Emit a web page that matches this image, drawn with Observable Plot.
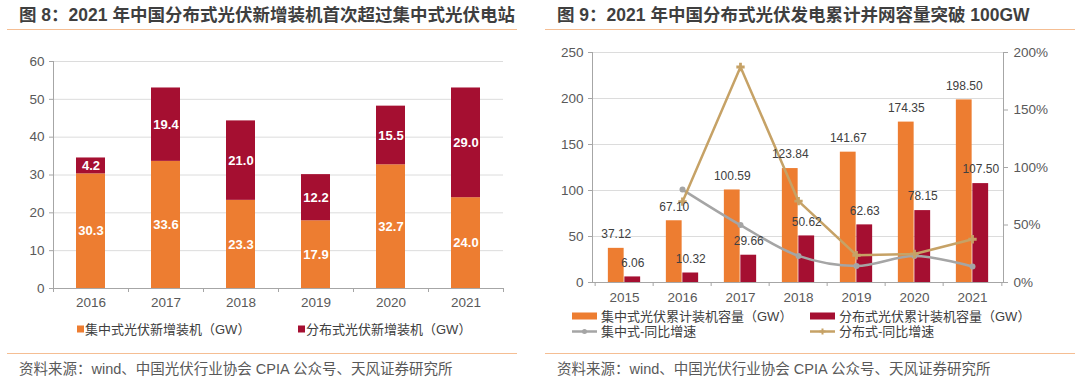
<!DOCTYPE html>
<html>
<head>
<meta charset="utf-8">
<script src="https://cdn.jsdelivr.net/npm/d3@7"></script>
<script src="https://cdn.jsdelivr.net/npm/@observablehq/plot@0.6"></script>
<style>
  body { margin: 0; background: #fff; }
  #root { position: relative; width: 1080px; height: 384px; overflow: hidden;
          font-family: "Liberation Sans", "Noto Sans CJK SC", sans-serif; }
  .abs { position: absolute; white-space: nowrap; line-height: 1; transform: translateY(-50%); }
  .title { font-size: 17.5px; font-weight: bold; color: #3F3F3F; }
  .sep { position: absolute; height: 0; border-top: 1.5px solid #F5BE93; }
  .src { font-size: 14.5px; color: #595959; }
  .leg { font-size: 13px; color: #404040; display: flex; align-items: center; }
  .chart { position: absolute; }
  .chart svg { overflow: visible; }
</style>
</head>
<body>
<div id="root"></div>
<script>
// ---------- data: figure 8 ----------
const years8 = ["2016", "2017", "2018", "2019", "2020", "2021"];
const centralAdd = [30.3, 33.6, 23.3, 17.9, 32.7, 24.0];
const distributedAdd = [4.2, 19.4, 21.0, 12.2, 15.5, 29.0];
const series8 = ["集中式光伏新增装机（GW）", "分布式光伏新增装机（GW）"];
const yTicks8 = [0, 10, 20, 30, 40, 50, 60];

// ---------- data: figure 9 ----------
const years9 = ["2015", "2016", "2017", "2018", "2019", "2020", "2021"];
const centralCum = [37.12, 67.10, 100.59, 123.84, 141.67, 174.35, 198.50];
const distributedCum = [6.06, 10.32, 29.66, 50.62, 62.63, 78.15, 107.50];
const centralGrowth = [null, 80.8, 49.9, 23.1, 14.4, 23.1, 13.9];      // %
const distributedGrowth = [null, 70.3, 187.4, 70.7, 23.7, 24.8, 37.6]; // %
const series9 = ["集中式光伏累计装机容量（GW）", "分布式光伏累计装机容量（GW）", "集中式-同比增速", "分布式-同比增速"];
const yTicks9 = [0, 50, 100, 150, 200, 250];
const pctTicks9 = [0, 50, 100, 150, 200];

const title8 = "图 8：2021 年中国分布式光伏新增装机首次超过集中式光伏电站";
const title9 = "图 9：2021 年中国分布式光伏发电累计并网容量突破 100GW";
const source = "资料来源：wind、中国光伏行业协会 CPIA 公众号、天风证券研究所";

// ---------- styles ----------
const ORANGE = "#ED7D31", RED = "#A50F31", GRAY = "#A5A5A5", GOLD = "#C6A266";
const GRID = "#DCDCDC", AXIS = "#A6A6A6", TICKTXT = "#595959";
const FONT = '"Liberation Sans", "Noto Sans CJK SC", sans-serif';

const root = document.getElementById("root");
function add(html, cls, left, top, extra = "") {
  const d = document.createElement("div");
  d.className = cls;
  d.style.cssText = `left:${left}px;top:${top}px;${extra}`;
  d.innerHTML = html;
  root.appendChild(d);
  return d;
}
function sep(left, right, top) {
  const d = document.createElement("div");
  d.className = "sep";
  d.style.cssText = `left:${left}px;top:${top}px;width:${right - left}px;`;
  root.appendChild(d);
}

// ---------- figure 8 ----------
add(title8, "abs title", 19, 16);
sep(7, 517, 29);

const rows8 = years8.flatMap((y, i) => [
  {year: y, s: series8[0], v: centralAdd[i]},
  {year: y, s: series8[1], v: distributedAdd[i]}
]);
const W8 = 540, ML8 = 53, MR8 = 37;
const step8 = (W8 - ML8 - MR8) / years8.length;

const chart8 = Plot.plot({
  width: W8, height: 278, marginTop: 21, marginBottom: 30, marginLeft: ML8, marginRight: MR8,
  style: {fontFamily: FONT, fontSize: "13.5px", color: TICKTXT, background: "transparent"},
  x: {domain: years8, paddingInner: 0.613, paddingOuter: 0.3065, label: null},
  y: {domain: [0, 60], label: null},
  color: {domain: series8, range: [ORANGE, RED]},
  marks: [
    Plot.ruleY(yTicks8.slice(1), {stroke: GRID}),
    Plot.barY(rows8, {x: "year", y: "v", fill: "s", z: "s"}),
    Plot.text(rows8, Plot.stackY({x: "year", y: "v", z: "s", text: d => d.v.toFixed(1),
      fill: "white", fontWeight: "bold", fontSize: 13})),
    Plot.ruleY([0], {stroke: AXIS}),
    Plot.frame({anchor: "left", stroke: AXIS}),
    Plot.axisY(yTicks8, {tickSize: 4, tickPadding: 5, stroke: AXIS, fill: TICKTXT, label: null}),
    Plot.axisX({tickSize: 0, tickPadding: 9, fill: TICKTXT, label: null}),
    Plot.ruleX(years8, {x: d => d, y1: 0, y2: 0, insetBottom: -4, dx: -step8 / 2, stroke: AXIS}),
    Plot.ruleX(years8.slice(-1), {x: d => d, y1: 0, y2: 0, insetBottom: -4, dx: step8 / 2, stroke: AXIS})
  ]
});
const c8 = document.createElement("div");
c8.className = "chart"; c8.style.cssText = "left:0px;top:40px;";
c8.appendChild(chart8); root.appendChild(c8);

// legend 8
add(`<span style="display:inline-block;width:7px;height:7px;background:${ORANGE};margin-right:1px"></span>${series8[0]}`, "abs leg", 77, 329);
add(`<span style="display:inline-block;width:7px;height:7px;background:${RED};margin-right:1px"></span>${series8[1]}`, "abs leg", 298, 329);

sep(7, 517, 353);
add(source, "abs src", 19, 369);

// ---------- figure 9 ----------
add(title9, "abs title", 557, 16);
sep(545, 1075, 29);

const W9 = 540, ML9 = 52, MR9 = 77;
const step9 = (W9 - ML9 - MR9) / years9.length;
const barW9 = 16.5;
const k = yTicks9[yTicks9.length - 1] / pctTicks9[pctTicks9.length - 1]; // % -> left-axis units

const rowsC = years9.map((y, i) => ({year: y, v: centralCum[i]}));
const rowsD = years9.map((y, i) => ({year: y, v: distributedCum[i]}));
const growC = years9.map((y, i) => ({year: y, g: centralGrowth[i]})).filter(d => d.g != null);
const growD = years9.map((y, i) => ({year: y, g: distributedGrowth[i]})).filter(d => d.g != null);

const chart9 = Plot.plot({
  width: W9, height: 278, marginTop: 22, marginBottom: 26, marginLeft: ML9, marginRight: MR9,
  style: {fontFamily: FONT, fontSize: "13.5px", color: TICKTXT, background: "transparent"},
  x: {domain: years9, padding: 0, label: null},
  y: {domain: [0, 250], label: null},
  marks: [
    Plot.ruleY(yTicks9.slice(1), {stroke: GRID}),
    Plot.barY(rowsC, {x: "year", y: "v", fill: ORANGE, insetLeft: step9 / 2 - barW9, insetRight: step9 / 2}),
    Plot.barY(rowsD, {x: "year", y: "v", fill: RED, insetLeft: step9 / 2, insetRight: step9 / 2 - barW9}),
    Plot.line(growC, {x: "year", y: d => d.g * k, stroke: GRAY, strokeWidth: 2.5, curve: "catmull-rom"}),
    Plot.dot(growC, {x: "year", y: d => d.g * k, r: 3, fill: GRAY}),
    Plot.line(growD, {x: "year", y: d => d.g * k, stroke: GOLD, strokeWidth: 2.5}),
    Plot.dot(growD, {x: "year", y: d => d.g * k, r: 3.5, symbol: "cross", fill: GOLD}),
    Plot.text(rowsC, {x: "year", y: "v", text: d => d.v.toFixed(2), dx: -barW9 / 2, dy: -14, fill: "#404040", fontSize: 12}),
    Plot.text(rowsD, {x: "year", y: "v", text: d => d.v.toFixed(2), dx: barW9 / 2, dy: -14, fill: "#404040", fontSize: 12}),
    Plot.ruleY([0], {stroke: AXIS}),
    Plot.frame({anchor: "left", stroke: AXIS}),
    Plot.frame({anchor: "right", stroke: AXIS}),
    Plot.axisY(yTicks9, {tickSize: 4, tickPadding: 5, stroke: AXIS, fill: TICKTXT, label: null}),
    Plot.axisY(pctTicks9.map(p => p * k), {anchor: "right", tickSize: 4, tickPadding: 6, stroke: AXIS, fill: TICKTXT,
      label: null, tickFormat: d => Math.round(d / k) + "%"}),
    Plot.axisX({tickSize: 0, tickPadding: 10, fill: TICKTXT, label: null}),
    Plot.ruleX(years9, {x: d => d, y1: 0, y2: 0, insetBottom: -4, dx: -step9 / 2, stroke: AXIS}),
    Plot.ruleX(years9.slice(-1), {x: d => d, y1: 0, y2: 0, insetBottom: -4, dx: step9 / 2, stroke: AXIS})
  ]
});
const c9 = document.createElement("div");
c9.className = "chart"; c9.style.cssText = "left:540px;top:30px;";
c9.appendChild(chart9); root.appendChild(c9);

// legend 9
const swRect = c => `<span style="display:inline-block;width:25px;height:7px;background:${c};margin-right:4px"></span>`;
const swLine = (c, marker) => `<svg width="25" height="8" style="margin-right:4px"><line x1="0" x2="25" y1="4" y2="4" stroke="${c}" stroke-width="2.5"/>${marker}</svg>`;
add(swRect(ORANGE) + series9[0], "abs leg", 572, 316);
add(swRect(RED) + series9[1], "abs leg", 810, 316);
add(swLine(GRAY, `<circle cx="12.5" cy="4" r="2.5" fill="${GRAY}"/>`) + series9[2], "abs leg", 572, 331);
add(swLine(GOLD, `<path d="M11.5,1h2v2h2v2h-2v2h-2v-2h-2v-2h2z" fill="${GOLD}"/>`) + series9[3], "abs leg", 810, 331);

sep(545, 1075, 353);
add(source, "abs src", 557, 369);
</script>
</body>
</html>
